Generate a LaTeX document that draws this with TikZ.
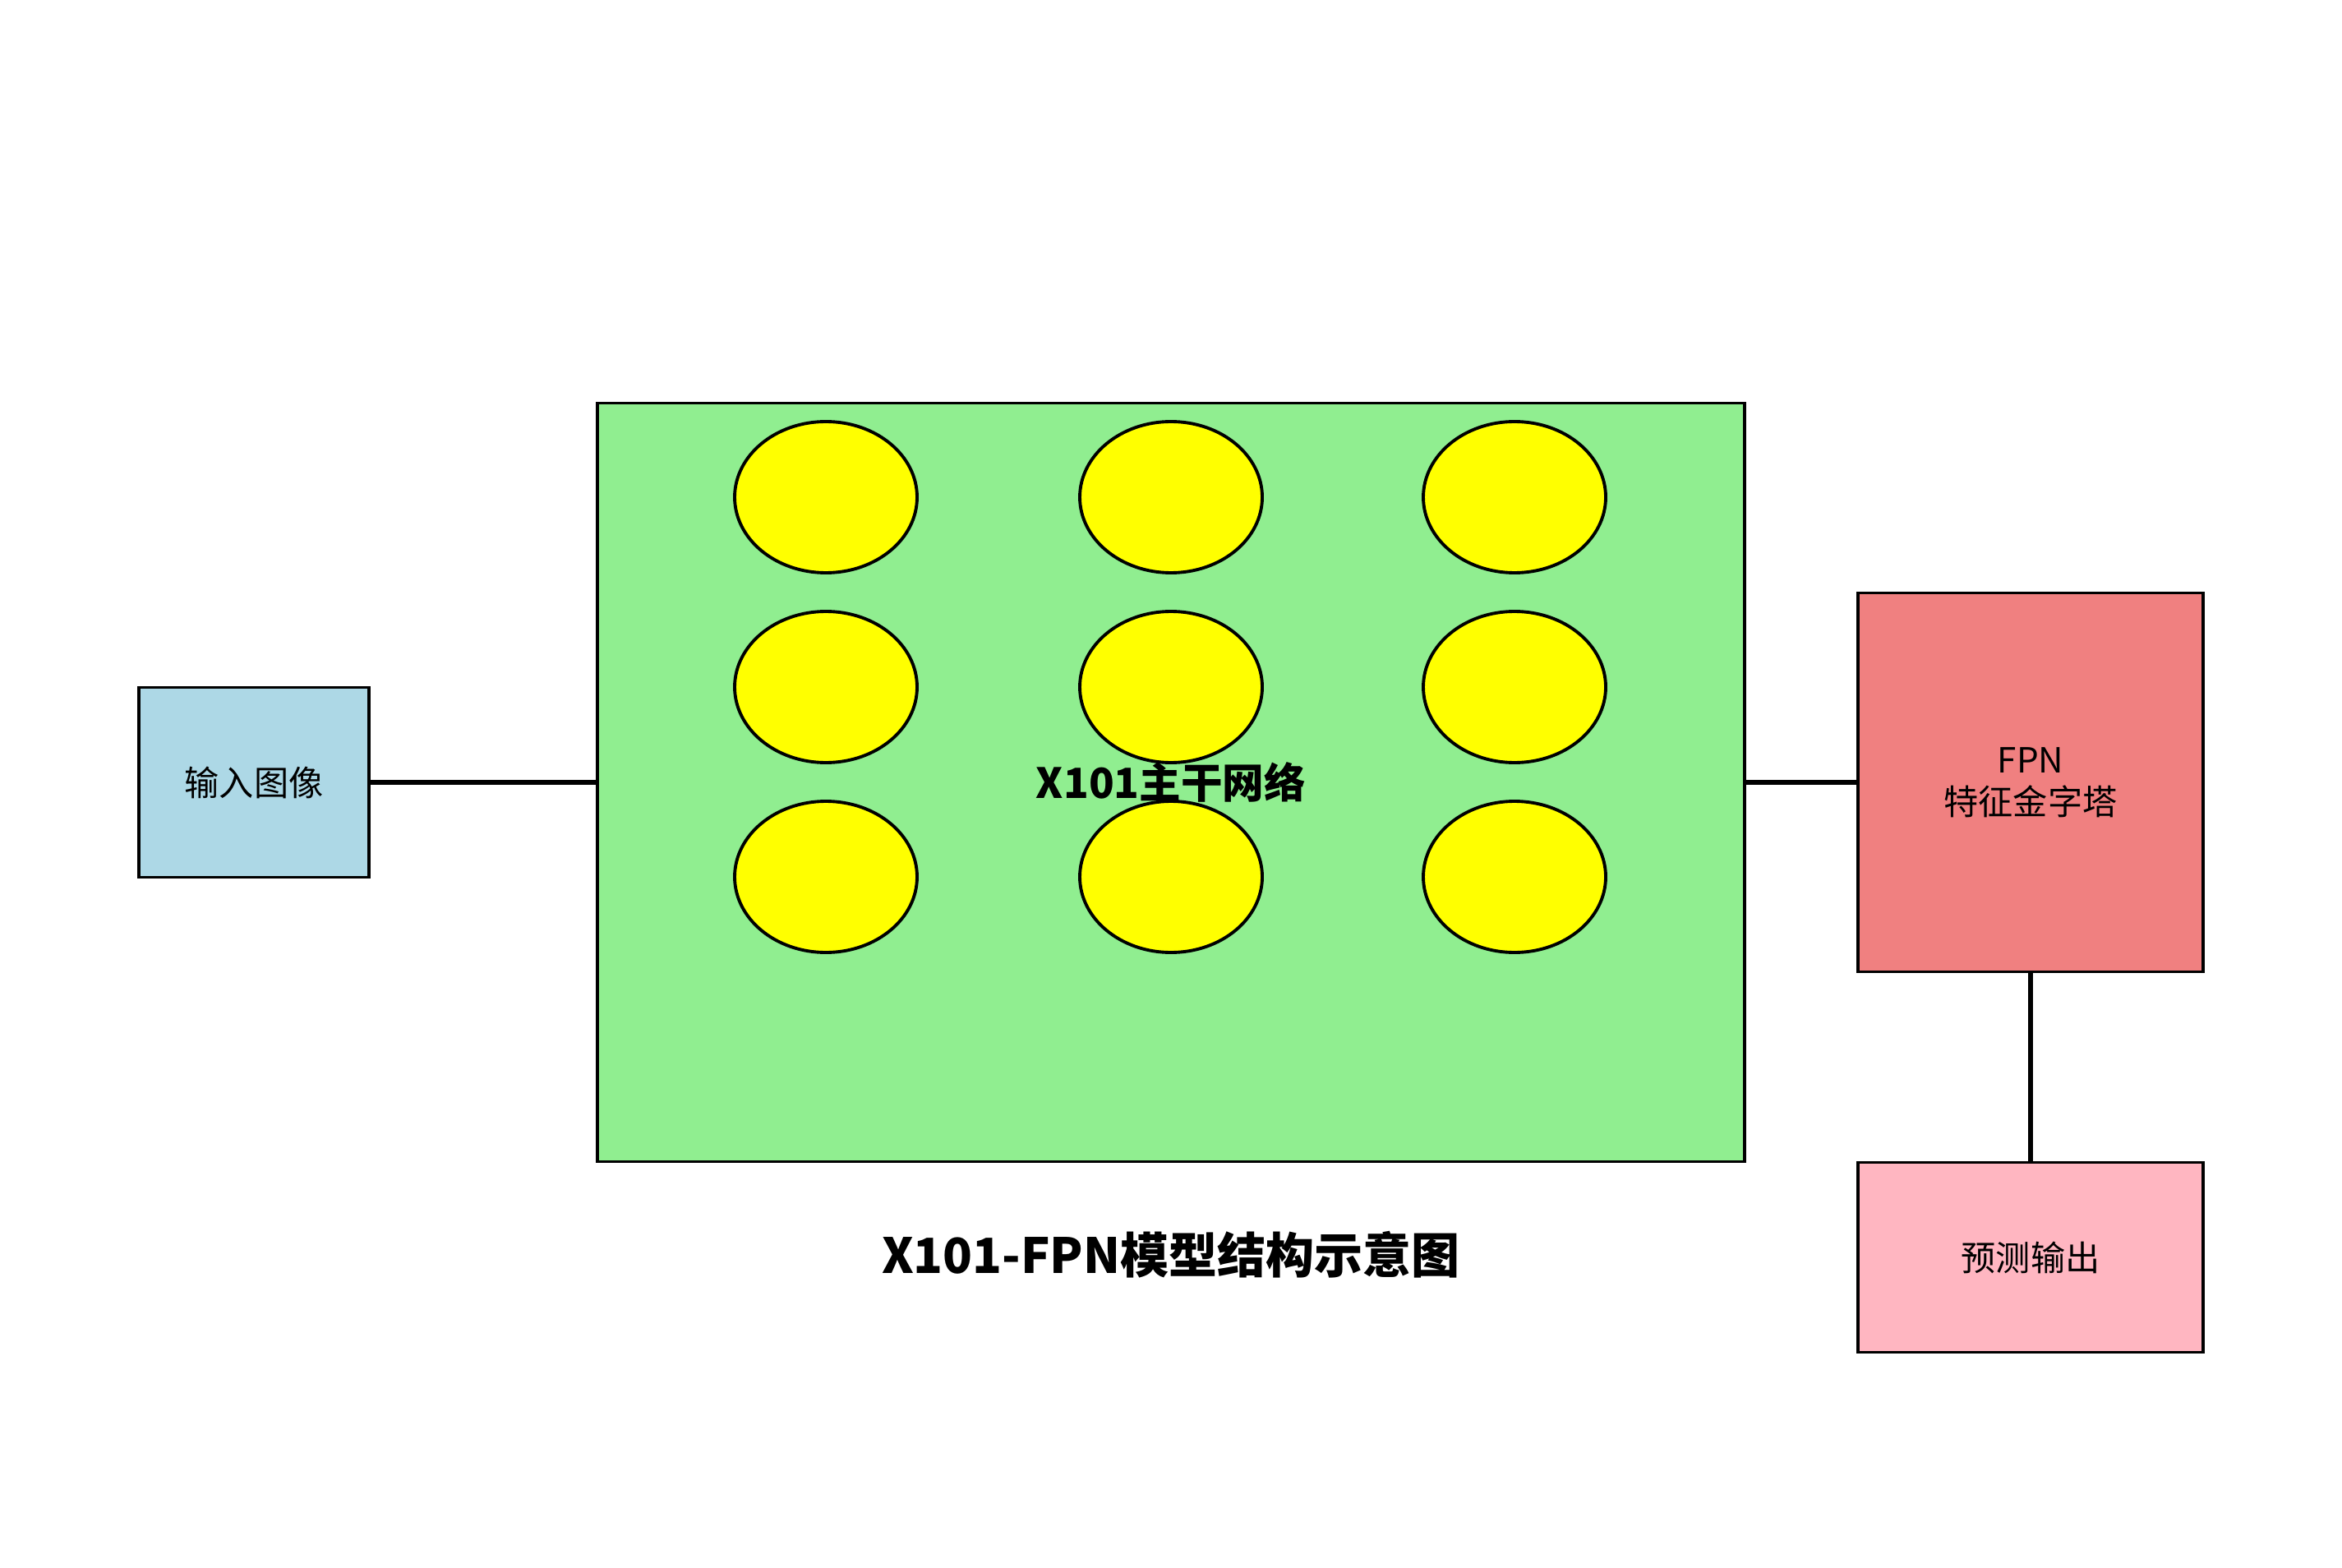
\documentclass[tikz,border=0pt]{standalone}
\usepackage{fontspec}
\setmainfont{Noto Sans CJK SC}
\usetikzlibrary{shapes.geometric}
\definecolor{inblue}{RGB}{173,216,230}
\definecolor{backgreen}{RGB}{144,238,144}
\definecolor{unityellow}{RGB}{255,255,0}
\definecolor{fpnred}{RGB}{240,128,128}
\definecolor{outpink}{RGB}{255,182,193}
\begin{document}
\begin{tikzpicture}[
    box/.style={draw, line width=1.1pt, rectangle, inner sep=0pt, font=\fontsize{12}{14.5}\selectfont, align=center},
    unit/.style={draw, line width=1.1pt, ellipse, fill=unityellow, minimum width=2.22cm, minimum height=1.84cm, inner sep=0pt},
    link/.style={line width=1.5pt}
]
    \useasboundingbox (0,0) rectangle (28.5,19.07);

    % Input
    \node[box, fill=inblue, minimum width=2.8cm, minimum height=2.31cm] (input) at (3.09, 9.55) {输入图像};

    % Backbone
    \node[box, fill=backgreen, minimum width=13.96cm, minimum height=9.23cm] (backbone) at (14.25, 9.55) {};
    \foreach \i/\x in {1/10.05, 2/14.25, 3/18.43}
        \foreach \j/\y in {1/13.02, 2/10.71, 3/8.40}
            \node[unit] (unit-\j-\i) at (\x, \y) {};
    \node[font=\fontsize{14.4}{17}\selectfont\bfseries] (backlabel) at (backbone.center) {X101主干网络};

    % FPN
    \node[box, fill=fpnred, minimum width=4.2cm, minimum height=4.61cm] (fpn) at (24.71, 9.55) {FPN\\特征金字塔};

    % Output
    \node[box, fill=outpink, minimum width=4.2cm, minimum height=2.31cm] (output) at (24.71, 3.77) {预测输出};

    % Links
    \draw[link] (input.east) -- (backbone.west);
    \draw[link] (backbone.east) -- (fpn.west);
    \draw[link] (fpn.south) -- (output.north);

    % Title
    \node[font=\fontsize{16.8}{20}\selectfont\bfseries] (title) at (14.25, 3.80) {X101-FPN模型结构示意图};
\end{tikzpicture}
\end{document}
